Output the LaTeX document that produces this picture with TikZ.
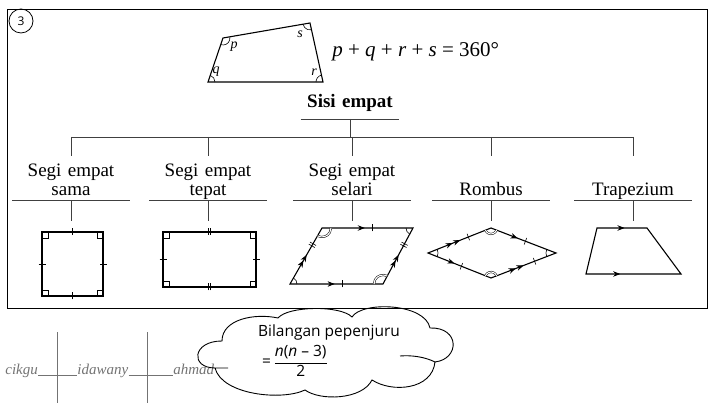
\documentclass[tikz,border=0pt]{standalone}
\usepackage{fontspec}
\setmainfont{Liberation Serif}
\newfontfamily\cloudfont{Open Sans}
\usetikzlibrary{angles,arrows.meta,decorations.markings}

\tikzset{
  cat/.style={anchor=south, align=center, text width=117pt, inner sep=0pt, execute at end node=\vphantom{p}, font=\fontsize{19}{19}\selectfont},
  rule/.style={line width=.6pt, black!75},
  fig/.style={line width=1.1pt, line join=miter},
  ar/.style={postaction={decorate,decoration={markings,mark=at position #1 with {\arrow{Stealth[length=7pt,width=5.5pt]}}}}},
  tk/.style={postaction={decorate,decoration={markings,mark=at position #1 with {\draw[line width=.6pt] (0,-3.5pt) -- (0,3.5pt);}}}},
  tkk/.style={postaction={decorate,decoration={markings,mark=at position #1 with {\draw[line width=.6pt] (-1.2pt,-3.5pt) -- (-1.2pt,3.5pt) (1.2pt,-3.5pt) -- (1.2pt,3.5pt);}}}},
  ang/.style={draw, line width=.6pt, angle radius=#1},
  dang/.style={draw, line width=.5pt, double, double distance=1.1pt, angle radius=#1},
  rt/.style={draw, line width=.6pt, angle radius=6pt},
  lbl/.style={inner sep=0pt, font=\itshape\fontsize{14}{14}\selectfont},
  sig/.style={inner sep=0pt, black!55, font=\itshape\fontsize{15}{15}\selectfont},
  sigline/.style={line width=.6pt, black!55},
  awanteks/.style={inner sep=0pt, font=\cloudfont\fontsize{15.5}{15.5}\selectfont},
}

\begin{document}
\begin{tikzpicture}[x=1pt, y=1pt, line width=.8pt]
\useasboundingbox (0,0) rectangle (713,403);
\draw (7,95) rectangle (707,394);
\node[circle, draw, minimum size=24pt, inner sep=0pt, font=\cloudfont\fontsize{12}{12}\selectfont] (nom) at (21,382) {3};

% sisi empat am
\coordinate (q1) at (208,321);
\coordinate (q2) at (323,321);
\coordinate (q3) at (310,380);
\coordinate (q4) at (223,365);
\draw[fig] (q1) -- (q2) -- (q3) -- (q4) -- cycle;
\pic[ang=7pt] {angle = q2--q1--q4};
\pic[ang=7pt] {angle = q3--q2--q1};
\pic[ang=7pt] {angle = q4--q3--q2};
\pic[ang=7pt] {angle = q1--q4--q3};
\node[lbl] (p) at (234,356) {p};
\node[lbl] (q) at (216,331) {q};
\node[lbl] (r) at (314,331) {r};
\node[lbl] (s) at (300,369) {s};
\node[anchor=west, inner sep=0pt, font=\fontsize{21}{21}\selectfont] (jumlah) at (332,351)
  {\textit{p} + \textit{q} + \textit{r} + \textit{s} = 360°};

% carta
\node[anchor=south, text width=98pt, align=center, inner sep=0pt, text depth=11pt, font=\bfseries\fontsize{19}{19}\selectfont] (sisi) at (350,284) {Sisi empat};
\draw[rule] (sisi.south west) -- (sisi.south east);
\node[cat] (sama) at (71,203) {Segi empat\\sama};
\node[cat] (tepat) at (208,203) {Segi empat\\tepat};
\node[cat] (selari) at (352,203) {Segi empat\\selari};
\node[cat] (rombus) at (491,203) {Rombus};
\node[cat] (trap) at (633,203) {Trapezium};
\coordinate (bar) at (350,266);
\draw[rule] (sisi.south) -- (bar);
\draw[rule] (sama |- bar) -- (trap |- bar);
\foreach \n in {sama,tepat,selari,rombus,trap}{
  \draw[rule] (\n.south west) -- (\n.south east);
  \draw[rule] (\n |- bar) -- ++(0,-19);
  \draw[rule] (\n.south) -- ++(0,-21);
}

% segi empat sama
\coordinate (sq1) at (42,107);
\coordinate (sq2) at (103,107);
\coordinate (sq3) at (103,171);
\coordinate (sq4) at (42,171);
\draw[fig] (sq1) -- (sq2) -- (sq3) -- (sq4) -- cycle;
\path[tk=.5] (sq1) -- (sq2);
\path[tk=.5] (sq2) -- (sq3);
\path[tk=.5] (sq3) -- (sq4);
\path[tk=.5] (sq4) -- (sq1);
\pic[rt] {right angle = sq2--sq1--sq4};
\pic[rt] {right angle = sq3--sq2--sq1};
\pic[rt] {right angle = sq4--sq3--sq2};
\pic[rt] {right angle = sq1--sq4--sq3};

% segi empat tepat
\coordinate (rc1) at (163,116);
\coordinate (rc2) at (256,116);
\coordinate (rc3) at (256,171);
\coordinate (rc4) at (163,171);
\draw[fig] (rc1) -- (rc2) -- (rc3) -- (rc4) -- cycle;
\path[tkk=.5] (rc1) -- (rc2);
\path[tk=.5] (rc2) -- (rc3);
\path[tkk=.5] (rc3) -- (rc4);
\path[tk=.5] (rc4) -- (rc1);
\pic[rt] {right angle = rc2--rc1--rc4};
\pic[rt] {right angle = rc3--rc2--rc1};
\pic[rt] {right angle = rc4--rc3--rc2};
\pic[rt] {right angle = rc1--rc4--rc3};

% segi empat selari
\coordinate (pg1) at (290,119);
\coordinate (pg2) at (383,119);
\coordinate (pg3) at (413,175);
\coordinate (pg4) at (322,175);
\draw[fig] (pg1) -- (pg2) -- (pg3) -- (pg4) -- cycle;
\path[ar=.48, tk=.56] (pg1) -- (pg2);
\path[ar=.47, tk=.55] (pg4) -- (pg3);
\path[ar=.42, ar=.52, tkk=.7] (pg1) -- (pg4);
\path[ar=.42, ar=.52, tkk=.7] (pg2) -- (pg3);
\pic[ang=7pt] {angle = pg2--pg1--pg4};
\pic[dang=9pt] {angle = pg3--pg2--pg1};
\pic[ang=7pt] {angle = pg4--pg3--pg2};
\pic[dang=9pt] {angle = pg1--pg4--pg3};

% rombus
\coordinate (rb1) at (428,150);
\coordinate (rb2) at (491,125);
\coordinate (rb3) at (556,150);
\coordinate (rb4) at (491,175);
\draw[fig] (rb1) -- (rb2) -- (rb3) -- (rb4) -- cycle;
\path[ar=.39, ar=.51, tk=.64] (rb1) -- (rb4);
\path[ar=.41, tk=.53] (rb4) -- (rb3);
\path[ar=.42, tk=.53] (rb1) -- (rb2);
\path[ar=.38, ar=.5, tk=.67] (rb2) -- (rb3);
\pic[ang=10pt] {angle = rb2--rb1--rb4};
\pic[dang=6pt] {angle = rb3--rb2--rb1};
\pic[ang=10pt] {angle = rb4--rb3--rb2};
\pic[dang=6pt] {angle = rb1--rb4--rb3};

% trapezium
\coordinate (tz1) at (586,129);
\coordinate (tz2) at (681,129);
\coordinate (tz3) at (647,175);
\coordinate (tz4) at (597,175);
\draw[fig] (tz1) -- (tz2) -- (tz3) -- (tz4) -- cycle;
\path[ar=.36] (tz1) -- (tz2);
\path[ar=.55] (tz4) -- (tz3);

% tandatangan
\node[sig, anchor=base west] (sg1) at (5,28) {cikgu};
\node[sig, anchor=base west] (sg2) at (77,28) {idawany};
\node[sig, anchor=base west] (sg3) at (173,28) {ahmad};
\draw[sigline] (sg1.base east) -- (sg2.base west);
\draw[sigline] (sg2.base east) -- (sg3.base west);
\draw[sigline] (57,0) -- (57,71);
\draw[sigline] (147,0) -- (147,71);

% awan
\coordinate (c1) at (215,35);
\coordinate (c2) at (222,62);
\coordinate (c3) at (278,85);
\coordinate (c4) at (352,86);
\coordinate (c5) at (430,75);
\coordinate (c6) at (435,41);
\coordinate (c7) at (372,23);
\coordinate (c8) at (305,13);
\draw[line width=.9pt] (c1) .. controls (190,35) and (192,62) .. (c2)
  .. controls (222,84) and (255,90) .. (c3)
  .. controls (288,97) and (340,98) .. (c4)
  .. controls (362,102) and (425,100) .. (c5)
  .. controls (460,76) and (460,44) .. (c6)
  .. controls (432,13) and (392,10) .. (c7)
  .. controls (362,3) and (320,2) .. (c8)
  .. controls (282,2) and (222,8) .. (c1) -- ++(13,0);
\draw[line width=.9pt] (c6) .. controls (425,46) and (412,48) .. (400,47);
\node[awanteks] (pepenjuru) at (329,71) {Bilangan pepenjuru};
\node[awanteks] (rumus) at (295,42)
  {=\,$\displaystyle\frac{\mbox{\cloudfont\fontsize{15.5}{15.5}\selectfont\itshape n\upshape(\itshape n\upshape\ – 3)}}{\mbox{\cloudfont\fontsize{15.5}{15.5}\selectfont 2}}$};
\end{tikzpicture}
\end{document}
